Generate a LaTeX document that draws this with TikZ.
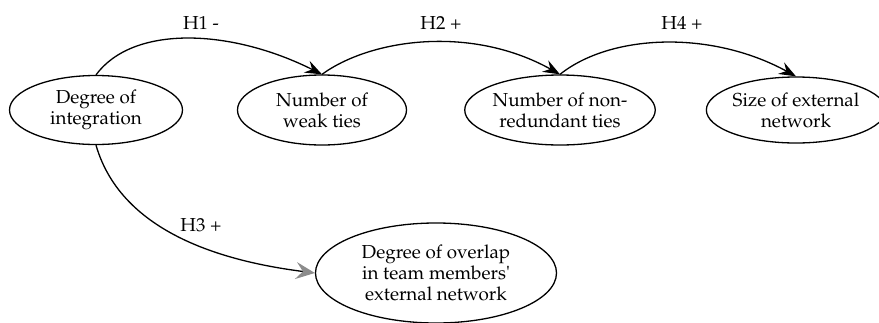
\documentclass[tikz,border=0pt]{standalone}
\usepackage[T1]{fontenc}
\usepackage{mathpazo}
\usetikzlibrary{shapes.geometric,arrows.meta}
\tikzset{
  concept/.style={ellipse,draw=black,line width=1.3pt,inner sep=0pt,align=center,
    font=\fontsize{18.8}{21}\selectfont},
  link/.style={line width=1.3pt,draw=black,
    -{Stealth[length=17pt,width=13pt,inset=6pt,fill=black]}},
  graylink/.style={line width=1.3pt,draw=black,
    -{Stealth[length=19pt,width=17pt,inset=7pt,color=black!45,fill=black!45]}},
  hyp/.style={font=\fontsize{18.8}{21}\selectfont,inner sep=0pt}
}
\begin{document}
\begin{tikzpicture}[x=1pt,y=-1pt]
\useasboundingbox (0,0) rectangle (879,322);

\node[concept,minimum width=173pt,minimum height=69pt] (e1) at (96,110) {Degree of\\integration};
\node[concept,minimum width=169pt,minimum height=70pt] (e2) at (322,110) {Number of\\weak ties};
\node[concept,minimum width=170pt,minimum height=70pt] (e3) at (560,110) {Number of non-\\redundant ties};
\node[concept,minimum width=161pt,minimum height=66pt] (e4) at (796,110) {Size of external\\network};
\node[concept,minimum width=241pt,minimum height=100pt] (e5) at (436,273) {Degree of overlap\\in team members\textquotesingle\\external network};

\draw[link] (e1.north) .. controls +(37,-50) and +(-92,-46) .. (e2.north);
\draw[link] (e2.north) .. controls +(48,-35) and +(-90,-50) .. (e3.north);
\draw[link] (e3.north) .. controls +(50,-40) and +(-86,-47) .. (e4.north);
\draw[graylink] (e1.south) .. controls +(26,90) and +(-86,-11) .. (e5.west);

\node[hyp] (h1) at (201,23) {H1 -};
\node[hyp] (h2) at (441,23) {H2 +};
\node[hyp] (h4) at (682,23) {H4 +};
\node[hyp] (h3) at (201,225) {H3 +};
\end{tikzpicture}
\end{document}
